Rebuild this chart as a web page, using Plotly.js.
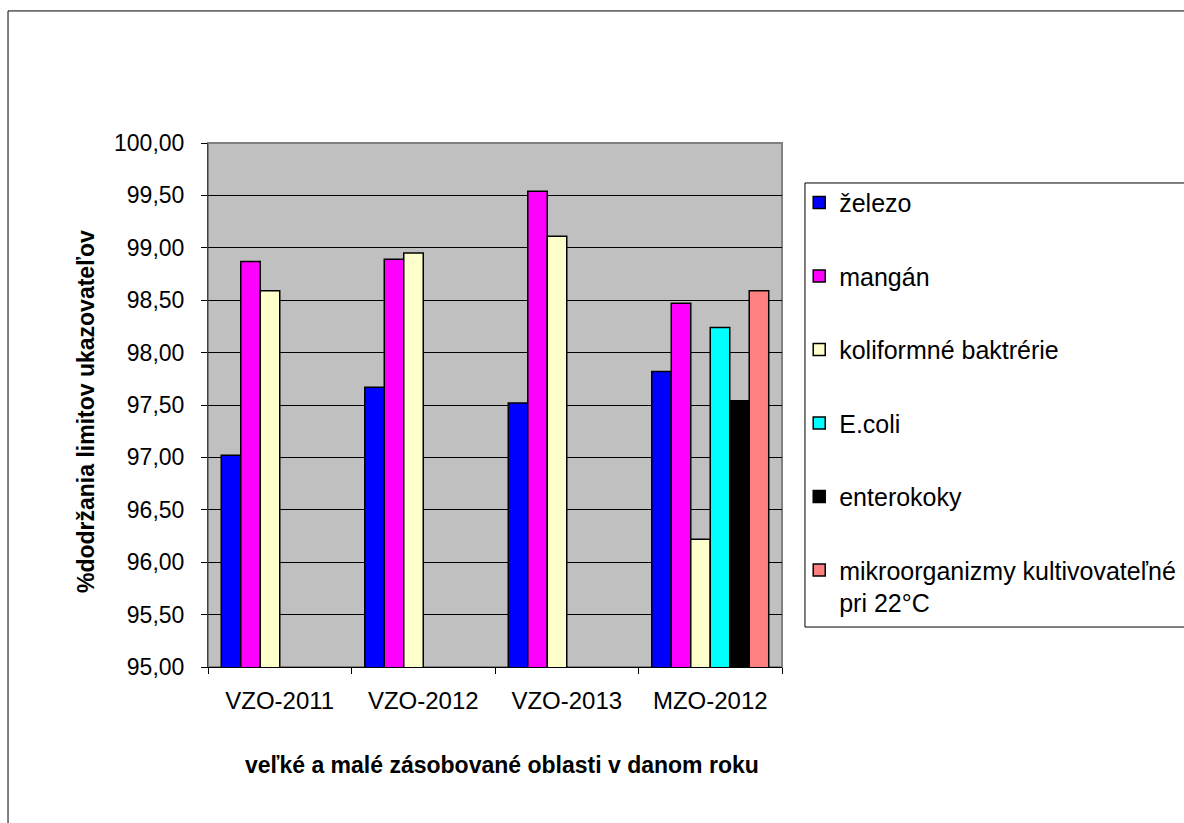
<!DOCTYPE html>
<html><head><meta charset="utf-8">
<script src="https://cdn.plot.ly/plotly-3.0.1.min.js"></script>
<style>html,body{margin:0;padding:0;background:#fff;}#chart{width:1184px;height:823px;}</style>
</head><body><div id="chart"></div>
<script>
const categories = ["VZO-2011", "VZO-2012", "VZO-2013", "MZO-2012"];
const seriesNames = ["železo", "mangán", "koliformné baktrérie", "E.coli", "enterokoky", "mikroorganizmy kultivovateľné<br>pri 22°C"];
const zelezo = [97.02, 97.67, 97.52, 97.82];
const mangan = [98.87, 98.89, 99.54, 98.47];
const koliformne = [98.59, 98.95, 99.11, 96.22];
const ecoli = [null, null, null, 98.24];
const enterokoky = [null, null, null, 97.54];
const mikroorganizmy = [null, null, null, 98.59];
const colors = ["#0000FF", "#FF00FF", "#FFFFCC", "#00FFFF", "#000000", "#FF8080"];
const yTicks = [95, 95.5, 96, 96.5, 97, 97.5, 98, 98.5, 99, 99.5, 100];
const xTitle = "veľké a malé zásobované oblasti v danom roku";
const yTitle = "%dodržania limitov ukazovateľov";

const allSeries = [zelezo, mangan, koliformne, ecoli, enterokoky, mikroorganizmy];
const traces = allSeries.map((vals, i) => ({
  type: "bar", x: categories, y: vals, name: seriesNames[i],
  legendgroup: "g" + i,
  marker: {color: colors[i], line: {color: "#000", width: 1.5}},
  hoverinfo: "y+name"
}));

const font = "Liberation Sans, Arial, sans-serif";
const layout = {
  width: 1184, height: 823,
  margin: {l: 208, r: 402, t: 143, b: 156, autoexpand: false},
  paper_bgcolor: "#fff", plot_bgcolor: "#C0C0C0",
  separators: ",.",
  barmode: "group", bargap: 0.185, bargroupgap: 0,
  font: {family: font, color: "#000", size: 18},
  showlegend: true,
  legend: {x: 1.03, xanchor: "left", y: 0.93, yanchor: "top",
           bgcolor: "rgba(0,0,0,0)", borderwidth: 0,
           font: {family: font, size: 25, color: "#000"},
           traceorder: "grouped", tracegroupgap: 38, valign: "top"},
  xaxis: {type: "category", showgrid: false, ticks: "outside", tickson: "boundaries",
          ticklen: 6, tickcolor: "#000", showline: true, linecolor: "#000", linewidth: 1,
          tickfont: {size: 24}, ticklabelstandoff: 12, fixedrange: true},
  yaxis: {range: [95, 100], tickvals: yTicks, tickformat: ".2f", showgrid: true, gridcolor: "#000", gridwidth: 1,
          ticks: "outside", ticklen: 6, tickcolor: "#000", showline: true, linecolor: "#404040", linewidth: 1,
          zeroline: false, tickfont: {size: 23}, ticklabelstandoff: 12, fixedrange: true},
  annotations: [
    {xref: "paper", yref: "paper", x: 0.513, y: -0.187, xanchor: "center", yanchor: "middle", showarrow: false,
     text: "<b>" + xTitle + "</b>", font: {size: 23, family: font, color: "#000"}},
    {xref: "paper", yref: "paper", x: -0.2125, y: 0.4866, xanchor: "center", yanchor: "middle", showarrow: false,
     textangle: -90, text: "<b>" + yTitle + "</b>", font: {size: 23, family: font, color: "#000"}}
  ],
  shapes: [
    {type: "rect", xref: "paper", yref: "paper", x0: -0.3484, x1: 1.75, y0: -0.35, y1: 1.252,
     line: {color: "#000", width: 1}, fillcolor: "rgba(0,0,0,0)", layer: "below"},
    {type: "rect", xref: "paper", yref: "paper", x0: 0, x1: 1, y0: 0, y1: 1,
     line: {color: "#808080", width: 2}, fillcolor: "rgba(0,0,0,0)", layer: "below"},
    {type: "rect", xref: "paper", yref: "paper", x0: 1.040, x1: 1.75, y0: 0.0763, y1: 0.9237,
     line: {color: "#000", width: 1}, fillcolor: "#fff", layer: "below"}
  ]
};
Plotly.newPlot("chart", traces, layout, {displayModeBar: false, staticPlot: true});
</script></body></html>
